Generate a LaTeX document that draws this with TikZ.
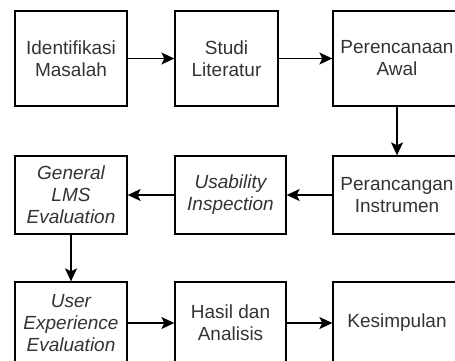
\documentclass[tikz,border=0pt]{standalone}
\usepackage{fontspec}
\setmainfont{Liberation Sans}
\usetikzlibrary{arrows.meta}

\definecolor{txtgray}{HTML}{333333}

\tikzset{
	langkah/.style={rectangle,draw=black,line width=1.3pt,text=txtgray,align=center,
		font=\fontsize{19}{22}\selectfont,inner sep=0pt},
	panah/.style={line width=1.4pt,-{Stealth[length=13pt,width=12pt,inset=3pt]}}
}

\begin{document}
\begin{tikzpicture}[x=1pt,y=-1pt]
				\useasboundingbox (0,0) rectangle (455,360);
				\clip (0,0) rectangle (455,360);

				\begin{scope}[every node/.style={langkah}]
					\node[minimum width=112pt,minimum height=95pt] (iden) at (71,58.5) {Identifikasi\\Masalah};
					\node[minimum width=103pt,minimum height=95pt] (studi) at (226.5,58.5) {Studi\\Literatur};
					\node[minimum width=128pt,minimum height=95pt] (awal) at (397,58.5) {Perencanaan\\Awal};
					\node[minimum width=128pt,minimum height=78pt] (instr) at (397,195) {Perancangan\\Instrumen};
					\node[minimum width=111pt,minimum height=78pt] (usab) at (230.5,195) {\itshape Usability\\\itshape Inspection};
					\node[minimum width=112pt,minimum height=78pt] (gen) at (71,195) {\itshape General\\\itshape LMS\\\itshape Evaluation};
					\node[minimum width=112pt,minimum height=82pt] (ux) at (71,323) {\itshape User\\\itshape Experience\\\itshape Evaluation};
					\node[minimum width=111pt,minimum height=82pt] (hasil) at (230.5,323) {Hasil dan\\Analisis};
					\node[minimum width=128pt,minimum height=82pt] (kes) at (397,323) {Kesimpulan};
				\end{scope}

				\begin{scope}
					\draw[panah] (iden) -- (studi);
					\draw[panah] (studi) -- (awal);
					\draw[panah] (awal) -- (instr);
					\draw[panah] (instr) -- (usab);
					\draw[panah] (usab) -- (gen);
					\draw[panah] (gen) -- (ux);
					\draw[panah] (ux) -- (hasil);
					\draw[panah] (hasil) -- (kes);
				\end{scope}
			\end{tikzpicture}
\end{document}
